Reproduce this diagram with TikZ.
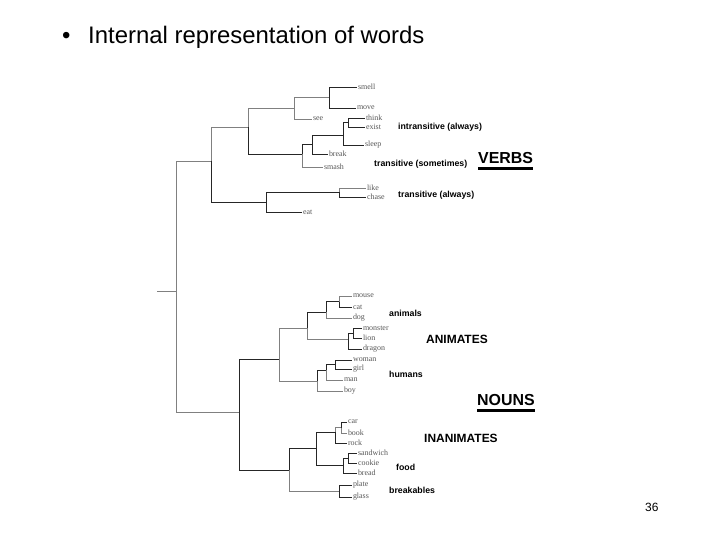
\documentclass[tikz,border=0pt]{standalone}
\usepackage{fontspec}
\setmainfont{Liberation Serif}
\setsansfont{Liberation Sans}
\usepackage{tikz}
\usetikzlibrary{positioning}

\begin{document}
\begin{tikzpicture}[x=1bp, y=-1bp,
    leaf/.style={anchor=west, inner sep=0.8pt, font=\fontsize{8}{9}\selectfont, text=black!65},
    grp/.style={anchor=west, inner sep=0pt, font=\sffamily\bfseries\fontsize{8.8}{10}\selectfont},
    cls/.style={anchor=west, inner sep=0pt, font=\sffamily\bfseries\fontsize{12}{14}\selectfont},
    wordclass/.style={anchor=west, inner sep=0pt, font=\sffamily\bfseries\fontsize{16}{18}\selectfont},
    lt/.style={draw=black!50, line width=0.6pt},
    dk/.style={draw=black!85, line width=0.9pt}]
    \fill[white] (0,0) rectangle (720,540);
    \useasboundingbox (0,0) rectangle (720,540);
    % Title and page number
    \node[anchor=base west, inner sep=0pt, font=\sffamily\fontsize{24}{28}\selectfont] (bullet) at (62,44) {\textbullet};
    \node[anchor=base west, inner sep=0pt, font=\sffamily\fontsize{24}{28}\selectfont] (title) at (88,44) {Internal representation of words};
    \node[anchor=base west, inner sep=0pt, font=\sffamily\fontsize{12}{14}\selectfont] (page) at (645,511) {36};
    % Tree joints
    \coordinate (stub) at (157,291);
    \coordinate (R) at (176,291);
    \coordinate (V) at (211,161);
    \coordinate (V1) at (248,127);
    \coordinate (V2) at (266,202);
    \coordinate (V1a) at (294,108);
    \coordinate (V1aa) at (329,97.5);
    \coordinate (V1b) at (302,154);
    \coordinate (V1ba) at (312,144);
    \coordinate (V1baa) at (343,135);
    \coordinate (V1baaa) at (348,122.5);
    \coordinate (V2a) at (339,192.5);
    \coordinate (N) at (239,412);
    \coordinate (A) at (279,359);
    \coordinate (Aa) at (307,328);
    \coordinate (Aa1) at (326,312);
    \coordinate (Aa1a) at (339,301.5);
    \coordinate (Aa2) at (348,339);
    \coordinate (Aa2a) at (353,333);
    \coordinate (Ah) at (317,381);
    \coordinate (Ah1) at (326,370);
    \coordinate (Ah1a) at (335,364.5);
    \coordinate (I) at (289,470);
    \coordinate (I1) at (316,448);
    \coordinate (I1a) at (335,432);
    \coordinate (I1aa) at (341,427.5);
    \coordinate (I1b) at (343,465);
    \coordinate (I1ba) at (348,458);
    \coordinate (I2) at (339,491);
    % Verb leaves
    \node[leaf] (smell) at (357,87) {smell};
    \node[leaf] (move) at (356,108) {move};
    \node[leaf] (see) at (312,119) {see};
    \node[leaf] (think) at (365,118) {think};
    \node[leaf] (exist) at (365,127) {exist};
    \node[leaf] (sleep) at (364,145) {sleep};
    \node[leaf] (break) at (328,154) {break};
    \node[leaf] (smash) at (323,167) {smash};
    \node[leaf] (like) at (366,188) {like};
    \node[leaf] (chase) at (366,197) {chase};
    \node[leaf] (eat) at (302,212) {eat};
    % Noun leaves
    \node[leaf] (mouse) at (352,296) {mouse};
    \node[leaf] (cat) at (352,307) {cat};
    \node[leaf] (dog) at (352,318) {dog};
    \node[leaf] (monster) at (362,328) {monster};
    \node[leaf] (lion) at (362,338) {lion};
    \node[leaf] (dragon) at (362,349) {dragon};
    \node[leaf] (woman) at (352,360) {woman};
    \node[leaf] (girl) at (352,369) {girl};
    \node[leaf] (man) at (343,380) {man};
    \node[leaf] (boy) at (343,391) {boy};
    \node[leaf] (car) at (347,422) {car};
    \node[leaf] (book) at (347,433) {book};
    \node[leaf] (rock) at (347,443) {rock};
    \node[leaf] (sandwich) at (357,453) {sandwich};
    \node[leaf] (cookie) at (357,463) {cookie};
    \node[leaf] (bread) at (357,473) {bread};
    \node[leaf] (plate) at (352,485) {plate};
    \node[leaf] (glass) at (352,497) {glass};
    % Branches: verbs
    \draw[lt] (stub) -- (R);
    \draw[lt] (R) |- (V);
    \draw[lt] (R) |- (N);
    \draw[lt] (V) |- (V1);
    \draw[dk] (V) |- (V2);
    \draw[lt] (V1) |- (V1a);
    \draw[dk] (V1) |- (V1b);
    \draw[lt] (V1a) |- (V1aa);
    \draw[lt] (V1a) |- (see.west);
    \draw[dk] (V1aa) |- (smell.west);
    \draw[dk] (V1aa) |- (move.west);
    \draw[dk] (V1b) |- (V1ba);
    \draw[lt] (V1b) |- (smash.west);
    \draw[dk] (V1ba) |- (V1baa);
    \draw[dk] (V1ba) |- (break.west);
    \draw[dk] (V1baa) |- (V1baaa);
    \draw[dk] (V1baa) |- (sleep.west);
    \draw[dk] (V1baaa) |- (think.west);
    \draw[dk] (V1baaa) |- (exist.west);
    \draw[dk] (V2) |- (V2a);
    \draw[dk] (V2) |- (eat.west);
    \draw[lt] (V2a) |- (like.west);
    \draw[dk] (V2a) |- (chase.west);
    % Branches: nouns
    \draw[dk] (N) |- (A);
    \draw[dk] (N) |- (I);
    \draw[lt] (A) |- (Aa);
    \draw[lt] (A) |- (Ah);
    \draw[dk] (Aa) |- (Aa1);
    \draw[lt] (Aa) |- (Aa2);
    \draw[dk] (Aa1) |- (Aa1a);
    \draw[lt] (Aa1) |- (dog.west);
    \draw[lt] (Aa1a) |- (mouse.west);
    \draw[dk] (Aa1a) |- (cat.west);
    \draw[dk] (Aa2) |- (Aa2a);
    \draw[dk] (Aa2) |- (dragon.west);
    \draw[dk] (Aa2a) |- (monster.west);
    \draw[dk] (Aa2a) |- (lion.west);
    \draw[dk] (Ah) |- (Ah1);
    \draw[lt] (Ah) |- (boy.west);
    \draw[dk] (Ah1) |- (Ah1a);
    \draw[lt] (Ah1) |- (man.west);
    \draw[dk] (Ah1a) |- (woman.west);
    \draw[dk] (Ah1a) |- (girl.west);
    \draw[dk] (I) |- (I1);
    \draw[lt] (I) |- (I2);
    \draw[dk] (I1) |- (I1a);
    \draw[dk] (I1) |- (I1b);
    \draw[lt] (I1a) |- (I1aa);
    \draw[dk] (I1a) |- (rock.west);
    \draw[dk] (I1aa) |- (car.west);
    \draw[lt] (I1aa) |- (book.west);
    \draw[dk] (I1b) |- (I1ba);
    \draw[dk] (I1b) |- (bread.west);
    \draw[dk] (I1ba) |- (sandwich.west);
    \draw[dk] (I1ba) |- (cookie.west);
    \draw[dk] (I2) |- (plate.west);
    \draw[dk] (I2) |- (glass.west);
    % Group labels
    \node[grp] (intrans) at (398,127) {intransitive (always)};
    \node[grp] (transsome) at (374,164) {transitive (sometimes)};
    \node[grp] (transalw) at (398,195) {transitive (always)};
    \node[wordclass] (verbs) at (478,158) {VERBS};
    \draw[line width=2.5pt] ([yshift=-4.5pt]verbs.south west) -- ([yshift=-4.5pt]verbs.south east);
    \node[grp] (animals) at (389,313) {animals};
    \node[cls] (animates) at (426,339) {ANIMATES};
    \node[grp] (humans) at (389,374) {humans};
    \node[wordclass] (nouns) at (477,400) {NOUNS};
    \draw[line width=2.5pt] ([yshift=-4.5pt]nouns.south west) -- ([yshift=-4.5pt]nouns.south east);
    \node[cls] (inanimates) at (424,438) {INANIMATES};
    \node[grp] (food) at (396,467) {food};
    \node[grp] (breakables) at (389,490) {breakables};
\end{tikzpicture}
\end{document}
